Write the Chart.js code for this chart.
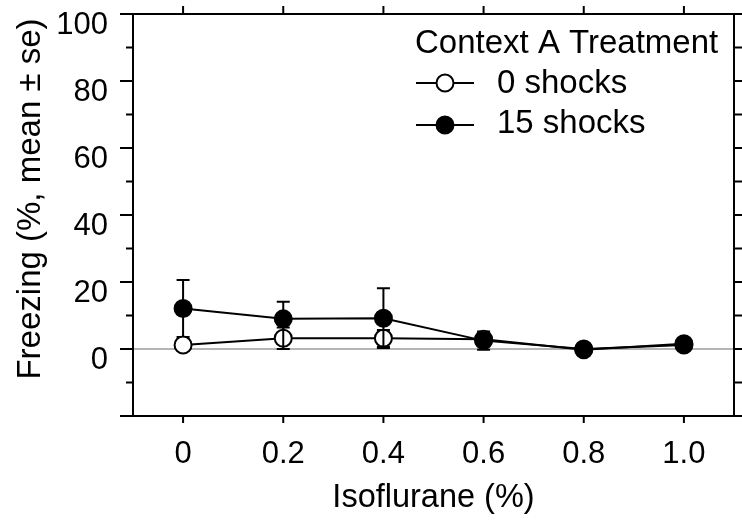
<!DOCTYPE html>
<html>
<head>
<meta charset="utf-8">
<script src="https://cdn.jsdelivr.net/npm/chart.js@4.4.1/dist/chart.umd.min.js"></script>
<style>
html,body{margin:0;padding:0;background:#fff;}
#wrap{width:742px;height:520px;}
canvas{display:block;}
</style>
</head>
<body>
<div id="wrap"><canvas id="c" width="742" height="520"></canvas></div>
<script>
// ---- data ----
const xValues = [0, 0.2, 0.4, 0.6, 0.8, 1.0];
const xTickLabels = ['0', '0.2', '0.4', '0.6', '0.8', '1.0'];
const yTickValues = [0, 20, 40, 60, 80, 100];
const yTickMarks = [-20, -10, 0, 10, 20, 30, 40, 50, 60, 70, 80, 90, 100];
const seriesNames = ['0 shocks', '15 shocks'];
const legendTitle = 'Context A Treatment';
const xTitle = 'Isoflurane (%)';
const yTitle = 'Freezing (%, mean \u00b1 se)';
const zeroShocksMean = [1.2, 3.2, 3.2, 2.9, -0.2, 1.6];
const zeroShocksSe   = [0, 3.2, 2.5, 1.0, 0.5, 0.8];
const fifteenShocksMean = [12.1, 9.0, 9.2, 2.5, 0.0, 1.2];
const fifteenShocksSe   = [8.5, 5.1, 8.9, 2.7, 0.8, 0.8];

const FONT = '"Liberation Sans", Arial, Helvetica, sans-serif';

function drawBars(chart, ds) {
  const {ctx} = chart;
  const y = chart.scales.y, x = chart.scales.x;
  ctx.save();
  ctx.strokeStyle = '#000';
  ctx.lineWidth = 2;
  ds.data.forEach((p, i) => {
    const e = ds.errors[i];
    if (!e) return;
    const px = x.getPixelForValue(p.x);
    const top = y.getPixelForValue(p.y + e);
    const bot = y.getPixelForValue(p.y - e);
    ctx.beginPath();
    ctx.moveTo(px, top); ctx.lineTo(px, bot);
    ctx.moveTo(px - 6.5, top); ctx.lineTo(px + 6.5, top);
    ctx.moveTo(px - 6.5, bot); ctx.lineTo(px + 6.5, bot);
    ctx.stroke();
  });
  ctx.restore();
}

const framePlugin = {
  id: 'frame',
  beforeDatasetsDraw(chart) {
    const {ctx, chartArea: a} = chart;
    const x = chart.scales.x, y = chart.scales.y;
    ctx.save();
    const y0 = y.getPixelForValue(0);
    ctx.strokeStyle = '#9c9c9c';
    ctx.lineWidth = 1.5;
    ctx.beginPath(); ctx.moveTo(a.left, y0); ctx.lineTo(a.right, y0); ctx.stroke();
    ctx.strokeStyle = '#000';
    ctx.lineWidth = 2;
    ctx.strokeRect(a.left, a.top, a.right - a.left, a.bottom - a.top);
    ctx.beginPath();
    yTickMarks.forEach(v => {
      const py = y.getPixelForValue(v);
      const len = v % 20 === 0 ? 13 : 7;
      ctx.moveTo(a.left - len, py); ctx.lineTo(a.left, py);
      ctx.moveTo(a.right, py); ctx.lineTo(a.right + 8, py);
    });
    xValues.forEach(v => {
      const px = x.getPixelForValue(v);
      ctx.moveTo(px, a.bottom); ctx.lineTo(px, a.bottom + 7);
      ctx.moveTo(px, a.top); ctx.lineTo(px, a.top - 8);
    });
    ctx.stroke();
    ctx.restore();
    chart.data.datasets.forEach(ds => { if (ds.barsUnder) drawBars(chart, ds); });
  },
  afterDatasetDraw(chart, args) {
    const ds = chart.data.datasets[args.index];
    if (!ds.barsUnder) drawBars(chart, ds);
  },
  afterDraw(chart) {
    const {ctx, chartArea: a} = chart;
    const left = a.right - 319;
    ctx.save();
    ctx.fillStyle = '#000';
    ctx.font = '33px ' + FONT;
    ctx.textBaseline = 'alphabetic';
    ctx.textAlign = 'left';
    ctx.fillText(legendTitle, left, a.top + 39);
    const rows = [
      {name: seriesNames[0], ly: a.top + 69, ty: a.top + 79, fill: '#fff'},
      {name: seriesNames[1], ly: a.top + 111, ty: a.top + 119, fill: '#000'}
    ];
    rows.forEach(r => {
      ctx.strokeStyle = '#000';
      ctx.lineWidth = 2;
      ctx.beginPath(); ctx.moveTo(left + 1, r.ly); ctx.lineTo(left + 59, r.ly); ctx.stroke();
      ctx.beginPath(); ctx.arc(left + 30, r.ly, 8.5, 0, Math.PI * 2);
      ctx.fillStyle = r.fill; ctx.fill(); ctx.stroke();
      ctx.fillStyle = '#000';
      ctx.fillText(r.name, left + 82, r.ty);
    });
    // y axis title
    ctx.save();
    ctx.translate(40, 199);
    ctx.rotate(-Math.PI / 2);
    ctx.textAlign = 'center';
    ctx.textBaseline = 'alphabetic';
    ctx.font = '33px ' + FONT;
    ctx.fillText(yTitle, 0, 0);
    ctx.restore();
    ctx.restore();
  }
};

function zeroPad(s) {
  s.paddingTop = 0; s.paddingBottom = 0; s.paddingLeft = 0; s.paddingRight = 0;
}

const ctx = document.getElementById('c').getContext('2d');
new Chart(ctx, {
  type: 'line',
  data: {
    datasets: [
      {
        label: seriesNames[0],
        data: xValues.map((v, i) => ({x: v, y: zeroShocksMean[i]})),
        errors: zeroShocksSe,
        order: 2,
        borderColor: '#000', borderWidth: 2,
        pointRadius: 8.5, pointBorderWidth: 2,
        pointBackgroundColor: '#fff', pointBorderColor: '#000',
        tension: 0, fill: false
      },
      {
        label: seriesNames[1],
        data: xValues.map((v, i) => ({x: v, y: fifteenShocksMean[i]})),
        errors: fifteenShocksSe,
        barsUnder: true,
        order: 1,
        borderColor: '#000', borderWidth: 2,
        pointRadius: 8.5, pointBorderWidth: 2,
        pointBackgroundColor: '#000', pointBorderColor: '#000',
        tension: 0, fill: false
      }
    ]
  },
  options: {
    responsive: false,
    animation: false,
    devicePixelRatio: 1,
    layout: {autoPadding: false, padding: {top: 14, right: 8, left: 0, bottom: 0}},
    plugins: {legend: {display: false}, tooltip: {enabled: false}},
    scales: {
      x: {
        type: 'linear', min: -0.1, max: 1.1,
        grid: {display: false, drawTicks: false},
        border: {display: false},
        afterBuildTicks: s => { s.ticks = xValues.map(v => ({value: v})); },
        afterFit: s => { s.height = 104; zeroPad(s); },
        ticks: {
          color: '#000', font: {family: FONT, size: 31}, padding: 20,
          maxRotation: 0, autoSkip: false,
          callback: (v, i) => xTickLabels[i]
        },
        title: {display: true, text: xTitle, color: '#000',
          font: {family: FONT, size: 32.5}, padding: {top: 0, bottom: 2}}
      },
      y: {
        type: 'linear', min: -20, max: 100,
        grid: {display: false, drawTicks: false},
        border: {display: false},
        afterBuildTicks: s => { s.ticks = yTickValues.map(v => ({value: v})); },
        afterFit: s => { s.width = 133; zeroPad(s); },
        ticks: {
          color: '#000', font: {family: FONT, size: 31}, padding: 25, labelOffset: 11,
          callback: v => String(v)
        },
        title: {display: false}
      }
    }
  },
  plugins: [framePlugin]
});
</script>
</body>
</html>
